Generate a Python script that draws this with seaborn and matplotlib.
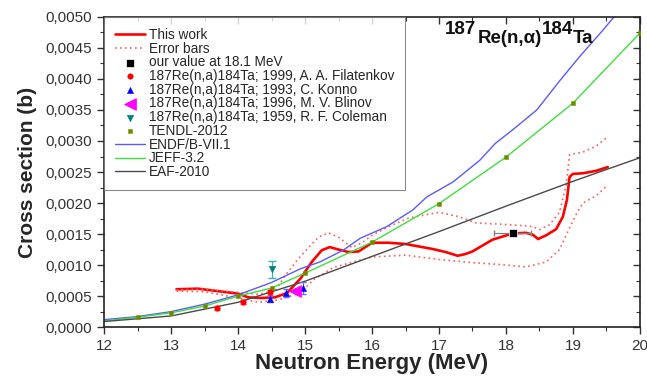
import numpy as np
import pandas as pd
import seaborn as sns
import matplotlib.pyplot as plt
import matplotlib.lines as mlines
from matplotlib.ticker import FuncFormatter, MultipleLocator

# cross sections below are in units of 1e-3 b
# This work (red line) and the error band
work_e = [13.08, 13.4, 13.7, 14.0, 14.15, 14.35, 14.55, 14.73, 14.93, 15.1, 15.25, 15.37,
          15.5, 15.65, 15.8, 16.0, 16.25, 16.5, 16.9, 17.1, 17.28, 17.4, 17.5, 17.8, 18.1,
          18.3, 18.4, 18.48, 18.6, 18.75, 18.85, 18.91, 18.95, 19.0, 19.15, 19.35, 19.52]
work_s = [0.61, 0.62, 0.58, 0.54, 0.48, 0.47, 0.48, 0.55, 0.78, 1.05, 1.24, 1.29,
          1.25, 1.21, 1.22, 1.36, 1.36, 1.34, 1.26, 1.21, 1.15, 1.18, 1.22, 1.41, 1.51,
          1.52, 1.49, 1.42, 1.48, 1.58, 1.78, 2.05, 2.42, 2.47, 2.48, 2.52, 2.58]

upper_e = [13.08, 13.5, 14.0, 14.3, 14.55, 14.73, 14.9, 15.05, 15.2, 15.35, 15.5, 15.7,
           15.85, 16.0, 16.25, 16.55, 17.0, 17.3, 17.55, 17.9, 18.2, 18.4, 18.5, 18.65,
           18.8, 18.9, 18.95, 19.15, 19.35, 19.52]
upper_s = [0.60, 0.61, 0.56, 0.53, 0.58, 0.87, 1.10, 1.28, 1.45, 1.52, 1.45, 1.28,
           1.36, 1.48, 1.62, 1.76, 1.85, 1.78, 1.68, 1.66, 1.64, 1.62, 1.57, 1.65,
           1.85, 2.30, 2.78, 2.82, 2.92, 3.07]

lower_e = [13.08, 13.5, 14.0, 14.3, 14.6, 14.93, 15.12, 15.42, 15.72, 16.0, 16.5, 17.0,
           17.5, 17.9, 18.3, 18.6, 18.8, 18.95, 19.06, 19.15, 19.35, 19.52]
lower_s = [0.58, 0.57, 0.47, 0.40, 0.44, 0.55, 0.76, 0.96, 1.05, 1.13, 1.16, 1.09,
           1.04, 1.01, 0.97, 1.05, 1.25, 1.60, 1.84, 2.00, 2.12, 2.29]

# evaluated libraries
endf_e = [12, 12.5, 13, 13.5, 14, 14.5, 14.93, 15.22, 15.57, 15.82, 16.22, 16.61, 16.82,
          17.21, 17.61, 17.84, 18.1, 18.46, 18.81, 19.1, 19.45, 19.66, 19.8]
endf_s = [0.12, 0.17, 0.25, 0.37, 0.52, 0.72, 0.94, 1.05, 1.24, 1.43, 1.62, 1.89, 2.10,
          2.34, 2.69, 2.96, 3.18, 3.50, 3.98, 4.36, 4.79, 5.06, 5.25]

jeff_e = [12, 12.5, 13, 13.5, 14, 14.5, 15, 16, 17, 18, 19, 20]
jeff_s = [0.10, 0.16, 0.23, 0.34, 0.50, 0.63, 0.87, 1.37, 1.99, 2.74, 3.61, 4.74]

tendl_e = [12.5, 13, 13.5, 14, 14.5, 15, 16, 17, 18, 19, 20]
tendl_s = [0.16, 0.23, 0.34, 0.50, 0.63, 0.87, 1.37, 1.99, 2.74, 3.61, 4.74]

eaf_e = [12, 13, 14, 15, 16, 17, 18, 19, 20]
eaf_s = [0.09, 0.18, 0.40, 0.74, 1.14, 1.54, 1.95, 2.35, 2.73]

# experimental points
ours_e, ours_s, ours_xerr = [18.1], [1.52], [0.28]
fil_e, fil_s, fil_err = [13.69, 14.07, 14.48], [0.31, 0.40, 0.56], [0.03, 0.03, 0.04]
konno_e, konno_s, konno_err = [14.48, 14.72, 14.97], [0.45, 0.55, 0.63], [0.05, 0.07, 0.10]
blinov_e, blinov_s = [14.85], [0.58]
coleman_e, coleman_s, coleman_err = [14.5], [0.93], [0.14]


def mb(vals):
    return np.array(vals) * 1e-3


sns.set_style("ticks")
plt.rcParams['font.family'] = ['Liberation Sans', 'DejaVu Sans']

fig, ax = plt.subplots(figsize=(6.47, 3.76), dpi=100)
fig.subplots_adjust(left=0.161, right=0.989, top=0.955, bottom=0.130)

sns.lineplot(x=work_e, y=mb(work_s), color='#ff0000', lw=1.9, sort=False, estimator=None,
             ax=ax, label='This work')
sns.lineplot(x=upper_e, y=mb(upper_s), color='#ff6060', lw=1.2, ls=(0, (1, 2)), sort=False,
             estimator=None, ax=ax, label='Error bars')
sns.lineplot(x=lower_e, y=mb(lower_s), color='#ff6060', lw=1.2, ls=(0, (1, 2)), sort=False,
             estimator=None, ax=ax)
sns.lineplot(x=endf_e, y=mb(endf_s), color='#5a5aff', lw=1.0, sort=False, estimator=None,
             ax=ax, label='ENDF/B-VII.1')
sns.lineplot(x=jeff_e, y=mb(jeff_s), color='#3ee03e', lw=1.0, sort=False, estimator=None,
             ax=ax, label='JEFF-3.2')
sns.lineplot(x=eaf_e, y=mb(eaf_s), color='#4a4a4a', lw=1.0, sort=False, estimator=None,
             ax=ax, label='EAF-2010')

# error bars of the measurements
ax.errorbar(ours_e, mb(ours_s), xerr=ours_xerr, fmt='none', ecolor='#808080', lw=0.9, capsize=2.5)
ax.errorbar(fil_e, mb(fil_s), yerr=mb(fil_err), fmt='none', ecolor='#ff4040', lw=0.8, capsize=2)
ax.errorbar(konno_e, mb(konno_s), yerr=mb(konno_err), fmt='none', ecolor='#6a6aff', lw=0.8, capsize=2.5)
ax.errorbar(coleman_e, mb(coleman_s), yerr=mb(coleman_err), fmt='none', ecolor='#40b0b0', lw=0.9, capsize=3)

sns.scatterplot(x=tendl_e, y=mb(tendl_s), marker='s', s=10, color='#808000', edgecolor='#55aa00',
                linewidth=0.4, ax=ax, label='TENDL-2012', zorder=4)
sns.scatterplot(x=ours_e, y=mb(ours_s), marker='s', s=40, color='black', ax=ax,
                label='our value at 18.1 MeV', zorder=5)
sns.scatterplot(x=fil_e, y=mb(fil_s), marker='o', s=16, color='#ff0000', edgecolor='#ff0000',
                ax=ax, label='187Re(n,a)184Ta; 1999, A. A. Filatenkov', zorder=5)
sns.scatterplot(x=konno_e, y=mb(konno_s), marker='^', s=20, color='#0000ff', edgecolor='#0000ff',
                ax=ax, label='187Re(n,a)184Ta; 1993, C. Konno', zorder=5)
sns.scatterplot(x=blinov_e, y=mb(blinov_s), marker='<', s=70, color='#ff00ff', edgecolor='#ff00ff',
                ax=ax, label='187Re(n,a)184Ta; 1996, M. V. Blinov', zorder=5)
sns.scatterplot(x=coleman_e, y=mb(coleman_s), marker='v', s=22, color='#008080', edgecolor='#008080',
                ax=ax, label='187Re(n,a)184Ta; 1959, R. F. Coleman', zorder=5)

order = ['This work', 'Error bars', 'our value at 18.1 MeV',
         '187Re(n,a)184Ta; 1999, A. A. Filatenkov', '187Re(n,a)184Ta; 1993, C. Konno',
         '187Re(n,a)184Ta; 1996, M. V. Blinov', '187Re(n,a)184Ta; 1959, R. F. Coleman',
         'TENDL-2012', 'ENDF/B-VII.1', 'JEFF-3.2', 'EAF-2010']
handles, labels = ax.get_legend_handles_labels()
lookup = dict(zip(labels, handles))
leg = ax.legend([lookup[k] for k in order], order, loc='upper left', bbox_to_anchor=(0, 1),
                borderaxespad=0, fontsize=9.8, labelspacing=-0.02, handlelength=2.2,
                handletextpad=0.3, borderpad=0.8, frameon=True, fancybox=False,
                edgecolor='#707070', scatterpoints=1)
leg.get_frame().set_linewidth(0.8)

# reaction label, superscripts drawn at full size like the original
tkw = dict(fontsize=13.5, fontweight='bold', color='#111111')
t1 = ax.text(0.636, 0.988, '187', transform=ax.transAxes, ha='left', va='top', **tkw)
t2 = ax.annotate('Re(n,\u03b1)', xy=(1, 0), xycoords=t1, xytext=(1, -7), textcoords='offset points',
                 ha='left', va='bottom', **tkw)
t3 = ax.annotate('184', xy=(1, 0), xycoords=t2, xytext=(0, 7), textcoords='offset points',
                 ha='left', va='bottom', **tkw)
ax.annotate('Ta', xy=(1, 0), xycoords=t3, xytext=(0, -7), textcoords='offset points',
            ha='left', va='bottom', **tkw)

ax.set_xlim(12, 20)
ax.set_ylim(0, 0.005)
ax.xaxis.set_major_locator(MultipleLocator(1))
ax.xaxis.set_minor_locator(MultipleLocator(0.5))
ax.yaxis.set_major_locator(MultipleLocator(0.0005))
ax.yaxis.set_minor_locator(MultipleLocator(0.00025))
ax.yaxis.set_major_formatter(FuncFormatter(lambda v, p: f'{v:.4f}'.replace('.', ',')))
ax.tick_params(axis='both', which='major', labelsize=11, length=5, width=1, colors='#333333',
               labelcolor='#333333', direction='out', top=True, right=True)
ax.tick_params(axis='both', which='minor', length=3, width=0.8, colors='#333333', direction='out',
               top=True, right=True)

# top and right ticks point inwards, bottom and left outwards
for t in ax.xaxis.get_major_ticks() + ax.xaxis.get_minor_ticks():
    t.tick2line.set_marker(mlines.TICKDOWN)
for t in ax.yaxis.get_major_ticks() + ax.yaxis.get_minor_ticks():
    t.tick2line.set_marker(mlines.TICKLEFT)

for s in ax.spines.values():
    s.set_linewidth(1.2)
    s.set_color('#222222')

ax.set_xlabel('Neutron Energy (MeV)', fontsize=16, fontweight='bold', labelpad=0)
ax.set_ylabel('Cross section (b)', fontsize=15, fontweight='bold', labelpad=6)

fig.savefig('out.png', dpi=100)
